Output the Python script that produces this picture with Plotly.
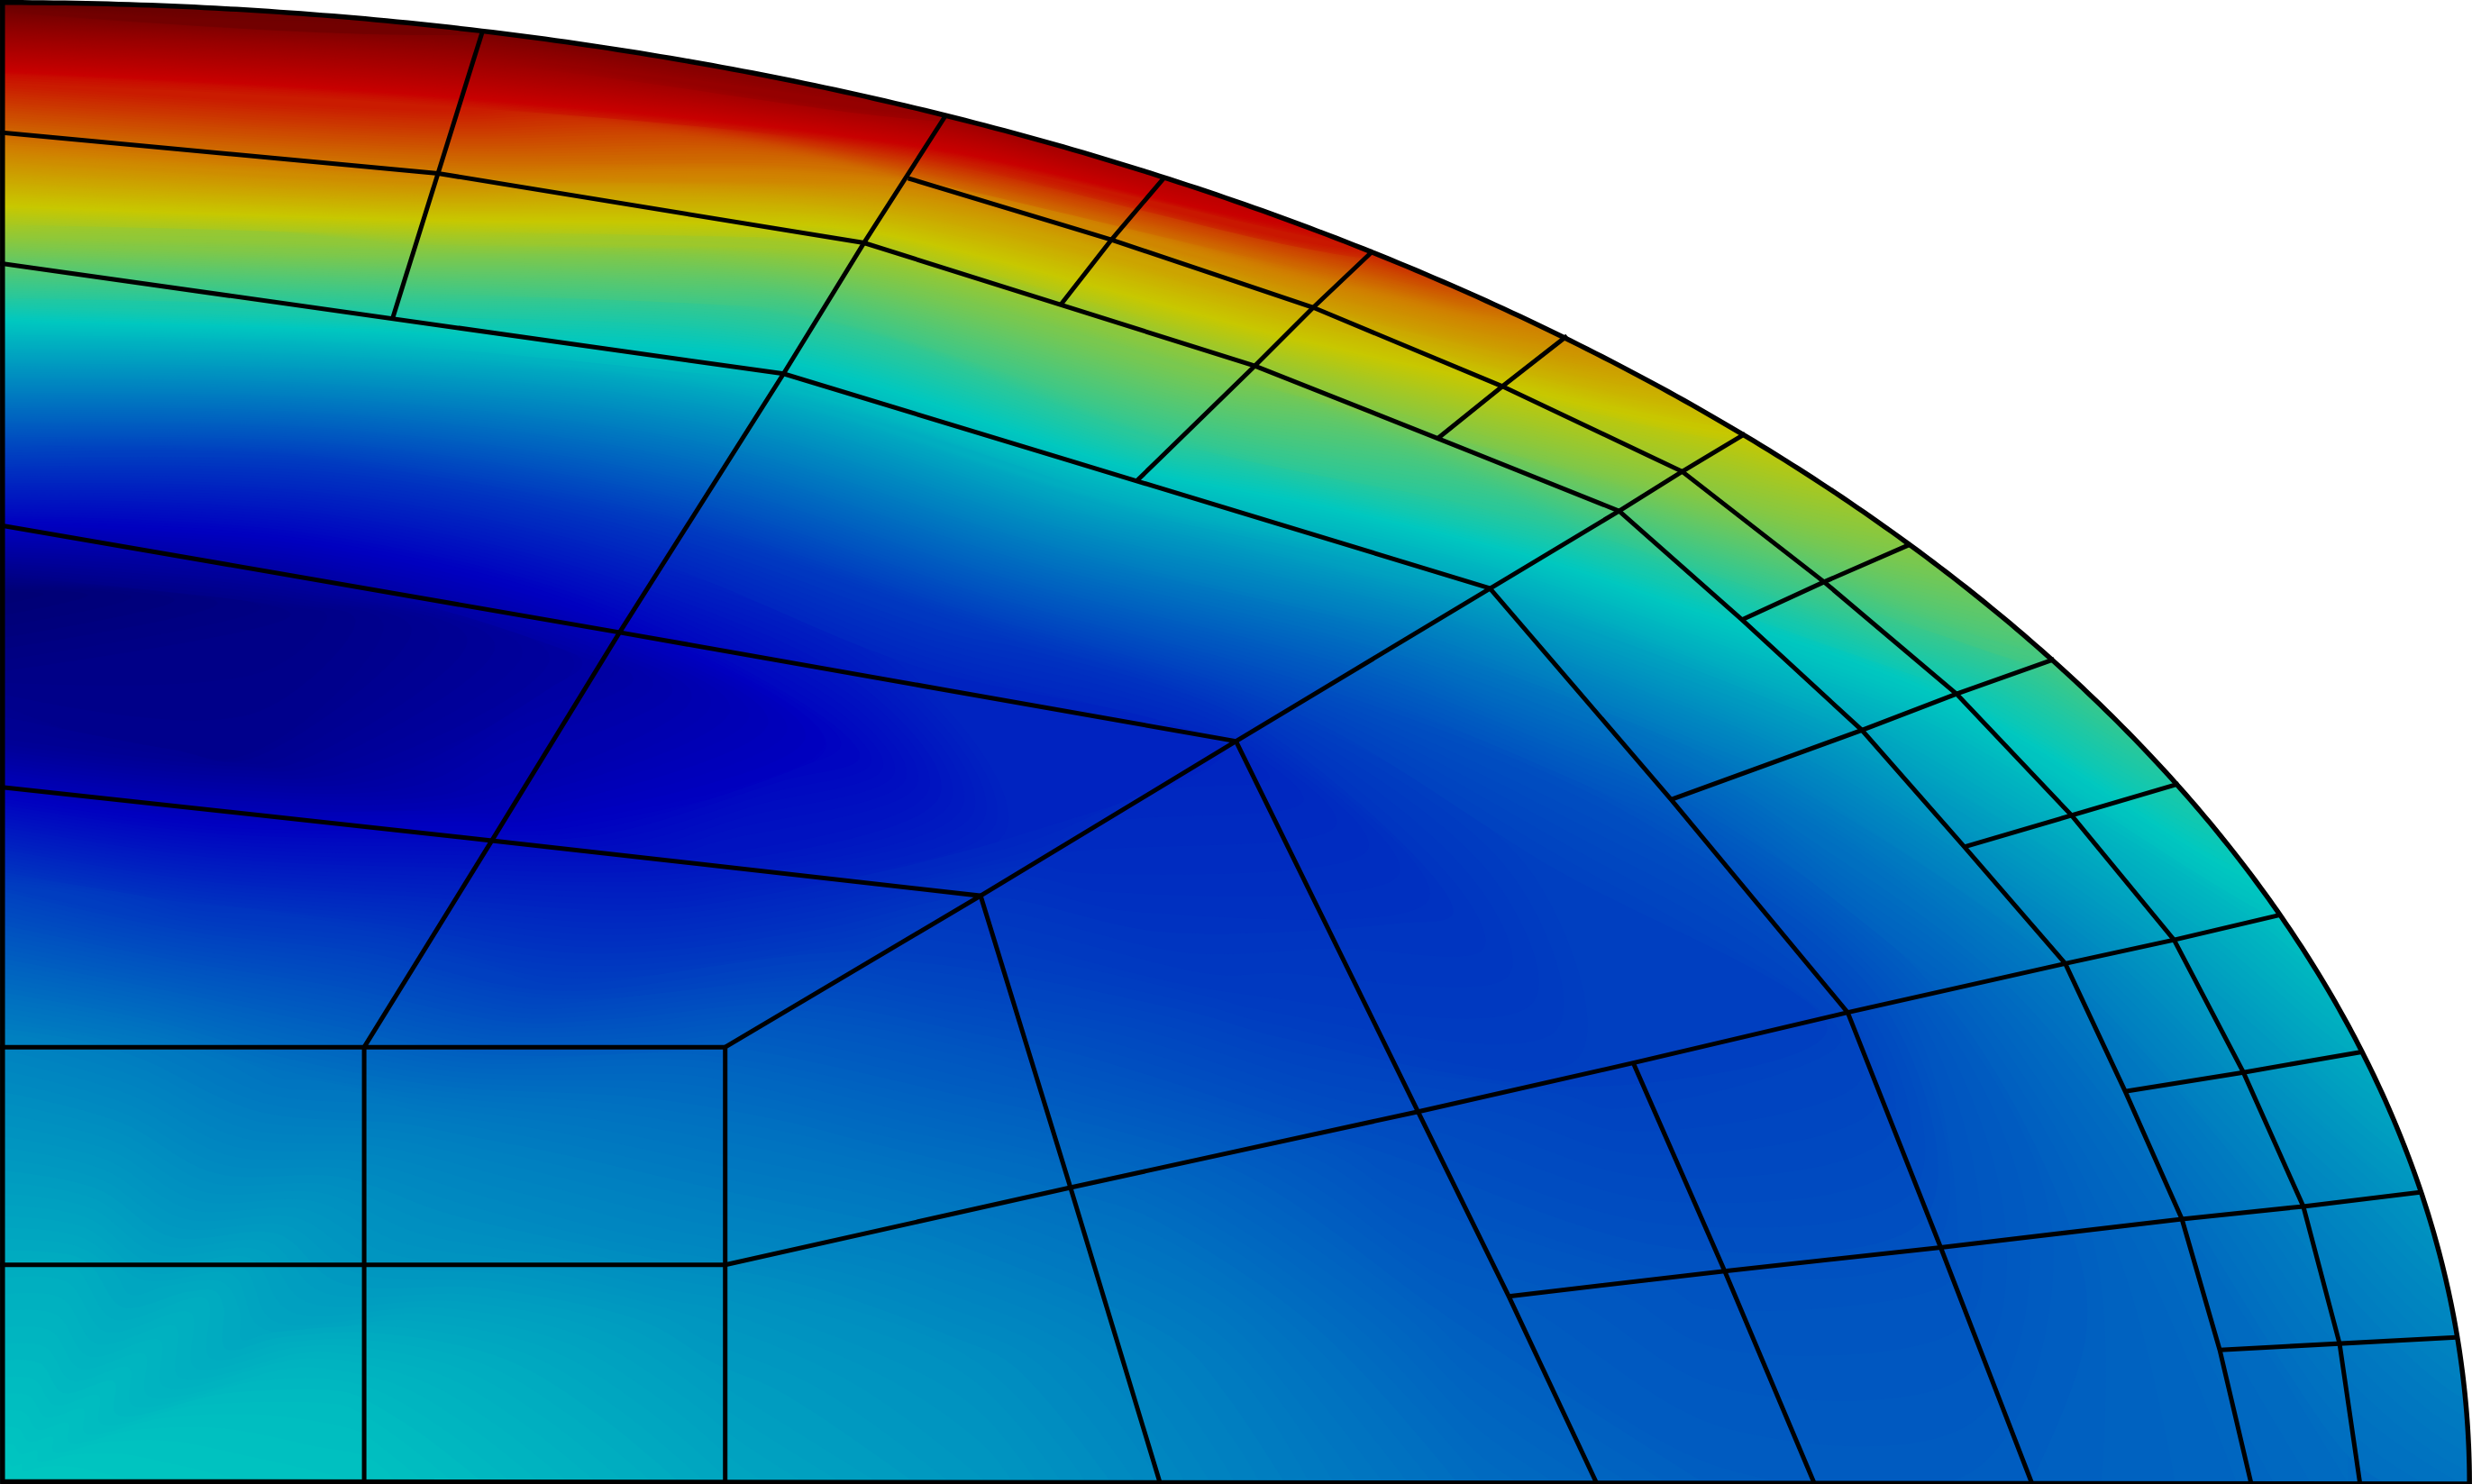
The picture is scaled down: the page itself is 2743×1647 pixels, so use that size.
import numpy as np
import plotly.graph_objects as go

WIDTH, HEIGHT = 2743, 1647
SEMI_X, SEMI_Y = 1568.0, 941.0
INSET = 1.6

ring_fractions = [0.001, 0.15, 0.3, 0.4, 0.5, 0.6, 0.7, 0.8, 0.85, 0.9, 0.95, 1.0, 1.03]
ray_angles_deg = [0, 11.25, 22.5, 33.75, 45, 56.25, 67.5, 78.75, 90]

field_t00 = [0.40, 0.36, 0.30, 0.21, 0.07, 0.03, 0.22, 0.44, 0.57, 0.70, 0.79, 1.00, 1.00]
field_t11 = [0.40, 0.36, 0.29, 0.19, 0.06, 0.05, 0.20, 0.42, 0.54, 0.70, 0.79, 0.97, 0.98]
field_t22 = [0.40, 0.35, 0.28, 0.20, 0.10, 0.08, 0.20, 0.37, 0.45, 0.56, 0.70, 0.90, 0.92]
field_t33 = [0.40, 0.36, 0.29, 0.21, 0.15, 0.12, 0.20, 0.36, 0.45, 0.53, 0.64, 0.78, 0.80]
field_t45 = [0.40, 0.35, 0.30, 0.26, 0.21, 0.18, 0.17, 0.28, 0.35, 0.43, 0.53, 0.60, 0.62]
field_t56 = [0.40, 0.37, 0.31, 0.28, 0.24, 0.20, 0.19, 0.23, 0.28, 0.34, 0.40, 0.47, 0.48]
field_t67 = [0.40, 0.38, 0.33, 0.30, 0.27, 0.23, 0.21, 0.21, 0.25, 0.29, 0.34, 0.39, 0.40]
field_t78 = [0.40, 0.385, 0.34, 0.32, 0.29, 0.25, 0.235, 0.235, 0.25, 0.27, 0.30, 0.33, 0.34]
field_t90 = [0.40, 0.39, 0.35, 0.33, 0.30, 0.27, 0.25, 0.25, 0.255, 0.26, 0.27, 0.28, 0.28]
field_rows = [field_t00, field_t11, field_t22, field_t33, field_t45,
              field_t56, field_t67, field_t78, field_t90]

color_stops = [
    [0.00, "#00005a"], [0.12, "#0000c0"], [0.40, "#00c8c0"], [0.50, "#64c864"],
    [0.60, "#c8c800"], [0.70, "#d08000"], [0.80, "#c80000"], [1.00, "#640000"],
]

mesh_lines = [
    [(576,113),(705,152),(833,195),(953,245),(1067,299),(1157,369),(1241,440),(1314,517),(1379,596),(1423,680),(1461,765),(1484,852),(1497,941)],
    [(0,84),(278,110),(548,154),(673,193),(796,232),(912,278),(1027,324),(1105,393),(1181,463),(1246,537),(1310,611),(1348,692),(1384,773),(1408,856),(1428,941)],
    [(0,167),(249,202),(497,237),(721,305),(945,373),(1060,507),(1172,642),(1231,791),(1289,941)],
    [(0,333),(393,401),(784,470),(899,705),(957,822),(1013,941)],
    [(0,499),(312,533),(622,568),(679,753),(736,941)],
    [(0,664),(231,664),(460,664),(460,802),(460,941)],
    [(0,802),(231,802),(460,802)],
    [(231,664),(231,802),(231,941)],
    [(306,20),(278,110),(249,202)],
    [(600,73),(548,154),(497,237),(393,401),(312,533),(231,664)],
    [(739,112),(705,152),(673,193)],
    [(871,159),(833,195),(796,232),(721,305)],
    [(994,213),(953,245),(912,278)],
    [(1107,275),(1067,299),(1027,324),(945,373),(784,470),(622,568),(460,664)],
    [(1212,345),(1157,369),(1105,393)],
    [(1303,418),(1241,440),(1181,463),(1060,507)],
    [(1382,497),(1314,517),(1246,537)],
    [(1447,580),(1379,596),(1310,611),(1172,642),(1036,674),(899,705),(679,753),(460,802)],
    [(1498,667),(1423,680),(1348,692)],
    [(1535,756),(1461,765),(1384,773),(1231,791),(1094,806),(957,822)],
    [(1558,848),(1484,852),(1408,856)],
    [(1036,674),(1094,806),(1151,941)],
]

s = np.array(ring_fractions)
t = np.radians(ray_angles_deg)
grid_x = np.outer(np.sin(t), s) * SEMI_X
grid_y = SEMI_Y - np.outer(np.cos(t), s) * SEMI_Y

axis_off = dict(showgrid=False, showline=False, showticklabels="none", startline=False,
                endline=False, minorgridcount=0, title=dict(text=""),
                smoothing=1, color="rgba(0,0,0,0)", gridwidth=0)

fig = go.Figure()
fig.add_trace(go.Carpet(a=ring_fractions, b=ray_angles_deg, x=grid_x.tolist(), y=grid_y.tolist(),
                        carpet="mesh", aaxis=axis_off, baxis=axis_off,
                        xaxis="x", yaxis="y"))
fig.add_trace(go.Contourcarpet(a=ring_fractions, b=ray_angles_deg, z=field_rows, carpet="mesh",
                               colorscale=color_stops, zmin=0, zmax=1, autocontour=False,
                               contours=dict(start=0, end=1, size=0.003, coloring="fill", showlines=False),
                               line=dict(width=0), showscale=False))

arc = np.radians(np.linspace(0, 90, 361))
arc_x = (SEMI_X - INSET) * np.sin(arc)
arc_y = SEMI_Y - (SEMI_Y - INSET) * np.cos(arc)

# white area outside the ellipse hides the overshoot of the outermost ring
fig.add_trace(go.Scatter(
    x=np.concatenate([arc_x, [SEMI_X + 10, SEMI_X + 10, -10, -10, 0]]),
    y=np.concatenate([arc_y, [SEMI_Y + 10, -10, -10, arc_y[0], arc_y[0]]]),
    mode="lines", fill="toself", fillcolor="white", line=dict(width=0, simplify=False),
    showlegend=False, hoverinfo="skip"))

for line in mesh_lines:
    fig.add_trace(go.Scatter(x=[p[0] for p in line], y=[p[1] for p in line], mode="lines",
                             line=dict(color="black", width=5), showlegend=False, hoverinfo="skip"))

outline_x = np.concatenate([[INSET], arc_x, [INSET], [INSET]])
outline_y = np.concatenate([[arc_y[0]], arc_y, [SEMI_Y - INSET], [arc_y[0]]])
fig.add_trace(go.Scatter(x=outline_x, y=outline_y, mode="lines",
                         line=dict(color="black", width=5.5, simplify=False),
                         showlegend=False, hoverinfo="skip"))

fig.update_layout(
    width=WIDTH, height=HEIGHT, margin=dict(l=0, r=0, t=0, b=0),
    paper_bgcolor="white", plot_bgcolor="white", showlegend=False,
    xaxis=dict(range=[0, SEMI_X], visible=False, fixedrange=True),
    yaxis=dict(range=[SEMI_Y, 0], visible=False, fixedrange=True),
)
fig.write_html("out.html", include_plotlyjs=True, config=dict(displayModeBar=False),
               post_script="document.body.style.margin='0';")
